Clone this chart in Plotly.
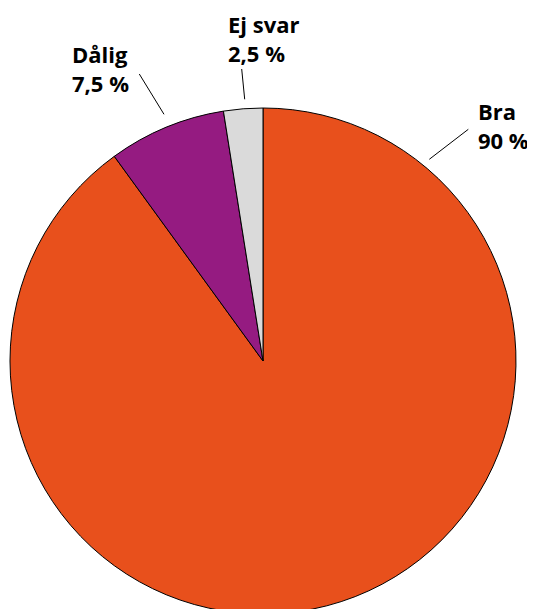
import plotly.graph_objects as go

labels = ["Bra", "Dålig", "Ej svar"]
values = [90, 7.5, 2.5]
value_text = ["90 %", "7,5 %", "2,5 %"]
colors = ["#E8501C", "#951B81", "#DADADA"]

W, H = 535, 609
OFF = 8  # page body margin

def px(x, y):
    return (x - OFF) / W, 1 - (y - OFF) / H

fig = go.Figure()
fig.add_trace(go.Pie(
    labels=labels,
    values=values,
    sort=False,
    direction="clockwise",
    rotation=0,
    marker=dict(colors=colors, line=dict(color="#000000", width=1)),
    textinfo="none",
    hoverinfo="label+percent",
    showlegend=False,
    domain=dict(x=[2 / W, 508 / W], y=[3 / H, 509 / H]),
))

# label positions (left, top) in px and leader lines
label_pos = {"Bra": (477, 95), "Dålig": (71, 38), "Ej svar": (227, 8)}
leaders = {
    "Bra": ((468.3, 129.3), (429.3, 159.3)),
    "Dålig": ((139.3, 74), (164, 114.3)),
    "Ej svar": ((241.7, 69), (244.7, 99.3)),
}

for lab, vt in zip(labels, value_text):
    lx, ly = label_pos[lab]
    ax, ay = px(lx, ly)
    fig.add_annotation(
        x=ax, y=ay, xref="paper", yref="paper",
        xanchor="left", yanchor="top", align="left",
        text=f"<b>{lab}</b><br><b>{vt}</b>",
        showarrow=False, borderpad=0,
        font=dict(family="Open Sans", size=22, color="#000000", weight=800),
    )
    (x0, y0), (x1, y1) = leaders[lab]
    p0 = px(x0, y0)
    p1 = px(x1, y1)
    fig.add_shape(type="line", xref="paper", yref="paper",
                  x0=p0[0], y0=p0[1], x1=p1[0], y1=p1[1],
                  line=dict(color="#000000", width=1))

fig.update_layout(
    width=W, height=H,
    margin=dict(l=0, r=0, t=0, b=0),
    paper_bgcolor="white",
    plot_bgcolor="white",
)

fig.write_html("out.html")
